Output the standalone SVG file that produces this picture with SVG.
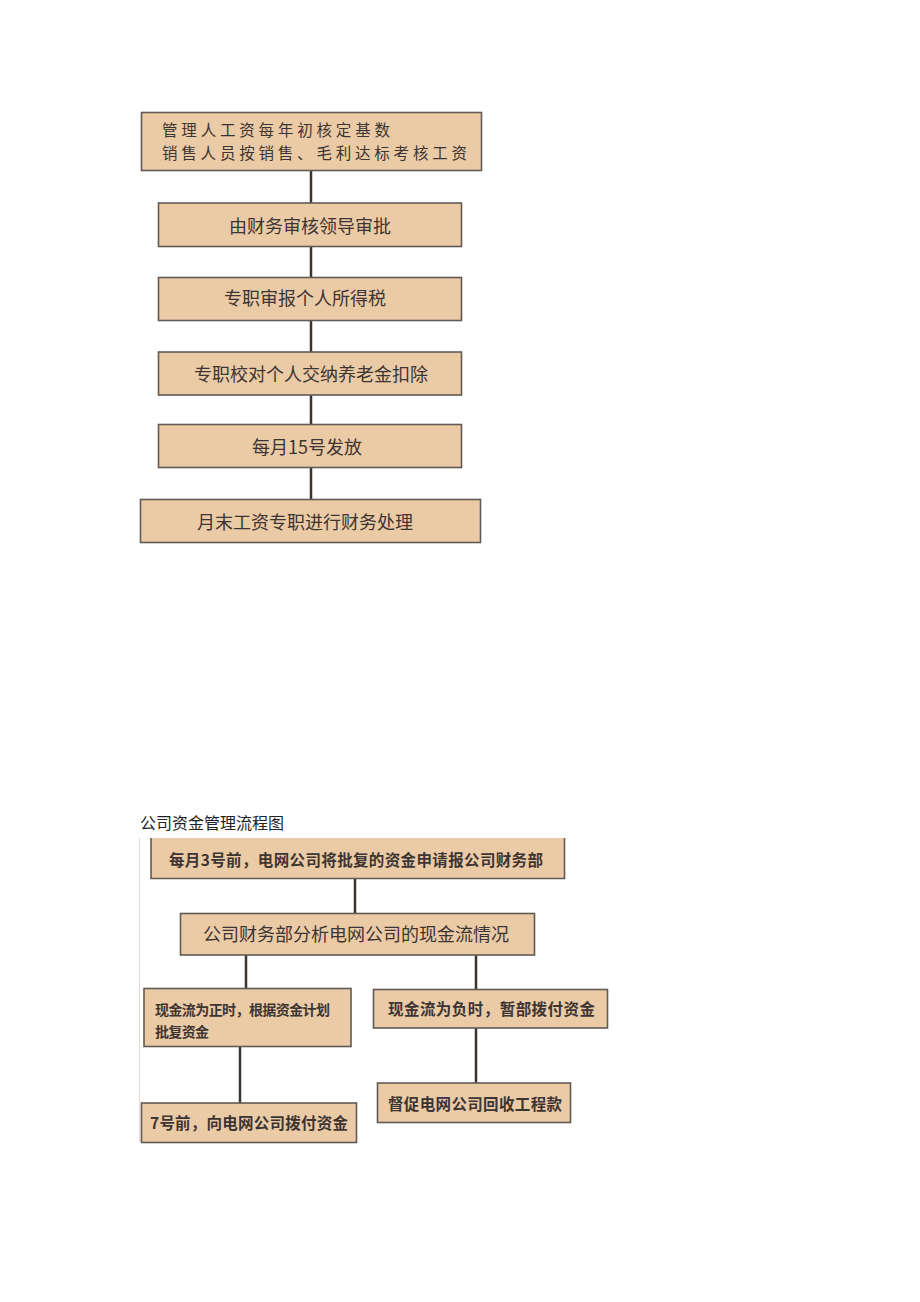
<svg xmlns="http://www.w3.org/2000/svg" width="920" height="1302" viewBox="0 0 920 1302">
<style>
.box{fill:#ebcaa6;stroke:#625a55;stroke-width:1.6}
.t{font-family:"Noto Sans CJK SC","Noto Sans",sans-serif;fill:#3d3532;font-size:18px}
.t1{font-family:"Noto Sans CJK SC","Noto Sans",sans-serif;fill:#3d3532;font-size:15.5px}
.t2{font-family:"Noto Sans CJK SC","Noto Sans",sans-serif;fill:#3d3532;font-size:15.5px;font-weight:bold}
.t3{font-family:"Noto Sans CJK SC","Noto Sans",sans-serif;fill:#3d3532;font-size:14px;font-weight:bold}
.c{stroke:#3a3431;stroke-width:2.5;fill:none}
.title{font-family:"Noto Sans CJK SC","Noto Sans",sans-serif;fill:#222;font-size:16px}
</style>
<rect width="920" height="1302" fill="#ffffff"/>
<g id="connectors">
<line class="c" x1="311" y1="170" x2="311" y2="203"/>
<line class="c" x1="311" y1="246" x2="311" y2="277"/>
<line class="c" x1="311" y1="320" x2="311" y2="352"/>
<line class="c" x1="311" y1="395" x2="311" y2="424"/>
<line class="c" x1="311" y1="467" x2="311" y2="499"/>
<line class="c" x1="355" y1="878" x2="355" y2="913"/>
<line class="c" x1="246" y1="955" x2="246" y2="988"/>
<line class="c" x1="476" y1="955" x2="476" y2="989"/>
<line class="c" x1="240" y1="1047" x2="240" y2="1103"/>
<line class="c" x1="476" y1="1028" x2="476" y2="1083"/>
</g>
<g id="n1"><rect class="box" x="141.5" y="112.5" width="340" height="58"/>
<text class="t1" x="162" y="136" textLength="228">管理人工资每年初核定基数</text>
<text class="t1" x="162" y="159" textLength="305">销售人员按销售、毛利达标考核工资</text></g>
<g id="n2"><rect class="box" x="158.5" y="203" width="303" height="43.5"/>
<text class="t" x="310" y="233" text-anchor="middle">由财务审核领导审批</text></g>
<g id="n3"><rect class="box" x="158.5" y="277.5" width="303" height="43"/>
<text class="t" x="305" y="305" text-anchor="middle">专职审报个人所得税</text></g>
<g id="n4"><rect class="box" x="158.5" y="352" width="303" height="43"/>
<text class="t" x="311" y="381" text-anchor="middle">专职校对个人交纳养老金扣除</text></g>
<g id="n5"><rect class="box" x="158.5" y="424.5" width="303" height="43"/>
<text class="t" x="307" y="454" text-anchor="middle">每月15号发放</text></g>
<g id="n6"><rect class="box" x="140.5" y="499.5" width="340" height="43"/>
<text class="t" x="305" y="529" text-anchor="middle">月末工资专职进行财务处理</text></g>

<g id="title"><text class="title" x="140" y="829">公司资金管理流程图</text></g>
<line x1="139.5" y1="838" x2="139.5" y2="1142" stroke="#f2d4d4" stroke-width="1"/>
<g id="m1"><path d="M151,838 V878.5 H564.5 V838" fill="#ebcaa6" stroke="#625a55" stroke-width="1.6"/>
<text class="t2" x="169" y="866" textLength="374">每月3号前，电网公司将批复的资金申请报公司财务部</text></g>
<g id="m2"><rect class="box" x="180.5" y="913.5" width="354" height="41.5"/>
<text class="t" x="356" y="941" text-anchor="middle">公司财务部分析电网公司的现金流情况</text></g>
<g id="m3"><rect class="box" x="144" y="988.5" width="207" height="58"/>
<text class="t3" x="155" y="1015" textLength="175">现金流为正时，根据资金计划</text>
<text class="t3" x="155" y="1037" textLength="54">批复资金</text></g>
<g id="m4"><rect class="box" x="373.5" y="989.5" width="234" height="38.5"/>
<text class="t2" x="388" y="1015" textLength="207">现金流为负时，暂部拨付资金</text></g>
<g id="m5"><rect class="box" x="141.5" y="1103" width="215" height="39.5"/>
<text class="t2" x="150" y="1129" textLength="198">7号前，向电网公司拨付资金</text></g>
<g id="m6"><rect class="box" x="377.5" y="1083" width="193" height="39.5"/>
<text class="t2" x="388" y="1110" textLength="174">督促电网公司回收工程款</text></g>
</svg>
